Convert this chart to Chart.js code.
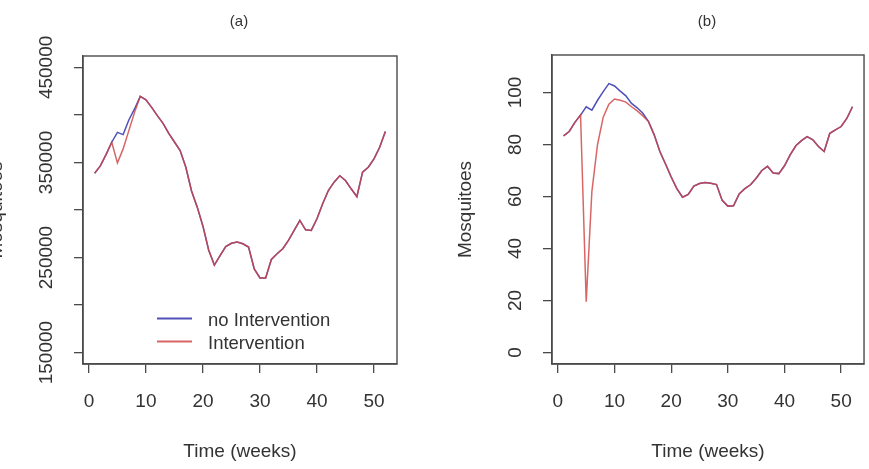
<!DOCTYPE html>
<html><head><meta charset="utf-8">
<script src="https://cdn.jsdelivr.net/npm/chart.js@4/dist/chart.umd.min.js"></script>
<style>
html,body{margin:0;padding:0;background:#fff;overflow:hidden;width:869px;height:469px;position:relative}
canvas{position:absolute;top:0}
#ca{left:-20px}
#cb{left:434px}
</style></head><body>
<canvas id="ca" width="450" height="469"></canvas>
<canvas id="cb" width="435" height="469"></canvas>
<script>
// ---- data ----
const weeks = [1,2,3,4,5,6,7,8,9,10,11,12,13,14,15,16,17,18,19,20,21,22,23,24,25,26,
               27,28,29,30,31,32,33,34,35,36,37,38,39,40,41,42,43,44,45,46,47,48,49,50,51,52];

const noIntervA = [338700,346400,358300,371300,381700,379300,394700,406300,419500,416000,408000,399300,391200,380500,371500,362500,345000,320000,303000,283000,258000,242000,252000,261500,265000,266300,
                   264500,261000,238000,228500,228500,248000,254000,259300,268000,278500,289000,279200,278500,290800,306500,320500,329300,336000,331000,322300,314000,339800,345000,353800,366000,382500];
const intervA   = [338700,346400,358300,371300,349600,364300,383500,402700,419500,416000,408000,399300,391200,380500,371500,362500,345000,320000,303000,283000,258000,242000,252000,261500,265000,266300,
                   264500,261000,238000,228500,228500,248000,254000,259300,268000,278500,289000,279200,278500,290800,306500,320500,329300,336000,331000,322300,314000,339800,345000,353800,366000,382500];

const noIntervB = [83.3,85,88.5,91.3,94.5,93.2,97,100.3,103.4,102.5,100.5,98.7,95.8,94.1,92,88.8,83.7,77.3,72.5,67.5,63,59.7,60.8,64,65,65.4,
                   65.1,64.6,58.5,56.3,56.4,61,63,64.5,67,70,71.6,69,68.8,71.8,76,79.5,81.5,83,81.8,79.2,77.3,84.3,85.6,86.9,90,94.5];
const intervB   = [83.3,85,88.5,91.3,19.5,62,80,90.5,95.5,97.5,97,96.3,94.5,92.9,91,88.8,83.7,77.3,72.5,67.5,63,59.7,60.8,64,65,65.4,
                   65.1,64.6,58.5,56.3,56.4,61,63,64.5,67,70,71.6,69,68.8,71.8,76,79.5,81.5,83,81.8,79.2,77.3,84.3,85.6,86.9,90,94.5];

const xTicks  = [0,10,20,30,40,50];
const yTicksA = [150000,200000,250000,300000,350000,400000,450000];
const yLabelsA = [150000,250000,350000,450000];
const yTicksB = [0,20,40,60,80,100];
const seriesNames = ['no Intervention','Intervention'];

// ---- style ----
const FONT = "'Liberation Sans', Arial, sans-serif";
const TXT = '#333333';
const AX = '#4a4a4a';
const BLUE = 'rgb(80,80,185)';
const RED = 'rgba(208,68,68,0.82)';

function pts(arr){ return weeks.map((w,i)=>({x:w,y:arr[i]})); }

const boxPlugin = {
  id:'box',
  afterDraw(chart){
    const {ctx, chartArea:a} = chart;
    ctx.save();
    ctx.strokeStyle = AX; ctx.lineWidth = 1.4;
    ctx.strokeRect(a.left, a.top, a.right-a.left, a.bottom-a.top);
    ctx.fillStyle = TXT;
    ctx.font = "15px " + FONT;
    ctx.textAlign = 'center'; ctx.textBaseline = 'middle';
    ctx.fillText(chart.options.plugins.box.title, (a.left+a.right)/2 - 1, 22);
    const lg = chart.options.plugins.box.legend;
    if (lg) {
      chart.data.datasets.forEach((ds,i)=>{
        const y = a.bottom - 45.5 + i*23;
        ctx.strokeStyle = ds.borderColor; ctx.lineWidth = 2;
        ctx.beginPath(); ctx.moveTo(a.left+74, y); ctx.lineTo(a.left+109, y); ctx.stroke();
        ctx.fillStyle = TXT; ctx.font = "18.5px " + FONT;
        ctx.textAlign = 'left'; ctx.textBaseline = 'middle';
        ctx.fillText(ds.label, a.left+125, y+2.5);
      });
    }
    ctx.restore();
  }
};

function makeChart(id, cfg){
  return new Chart(document.getElementById(id), {
    type:'line',
    data:{ datasets:[
      {label:seriesNames[0], data:pts(cfg.blue), borderColor:BLUE, borderWidth:1.5, pointRadius:0, tension:0, fill:false, order:1},
      {label:seriesNames[1], data:pts(cfg.red), borderColor:RED, borderWidth:1.5, pointRadius:0, tension:0, fill:false, order:0}
    ]},
    plugins:[boxPlugin],
    options:{
      responsive:false, animation:false, devicePixelRatio:1,
      layout:{padding:{top:cfg.top, right:cfg.right, left:0, bottom:0}},
      plugins:{legend:{display:false}, tooltip:{enabled:false}, title:{display:false},
               box:{title:cfg.title, legend:cfg.legend}},
      scales:{
        x:{ type:'linear', min:-1.04, max:54.04,
            afterBuildTicks:s=>{ s.ticks = xTicks.map(v=>({value:v})); },
            afterFit:s=>{ s.height = 105; },
            ticks:{autoSkip:false, minRotation:0, maxRotation:0, padding:17, color:TXT, font:{family:FONT, size:19},
                   callback:v=>String(v)},
            grid:{drawOnChartArea:false, drawTicks:true, tickLength:9, color:AX, lineWidth:1.3},
            border:{display:true, color:AX, width:1.4},
            title:{display:true, text:'Time (weeks)', color:TXT, font:{family:FONT, size:19}, padding:{top:0, bottom:5.6}}
        },
        y:{ type:'linear', min:cfg.ymin, max:cfg.ymax,
            afterBuildTicks:s=>{ s.ticks = cfg.yTicks.map(v=>({value:v})); },
            afterFit:s=>{ s.width = cfg.yWidth; },
            ticks:{autoSkip:false, minRotation:90, maxRotation:90, crossAlign:'center', padding:cfg.tickPad, color:TXT,
                   font:{family:FONT, size:19}, callback:cfg.yCallback},
            grid:{drawOnChartArea:false, drawTicks:true, tickLength:9, color:AX, lineWidth:1.3},
            border:{display:true, color:AX, width:1.4},
            title:{display:true, text:'Mosquitoes', color:TXT, font:{family:FONT, size:19}, padding:{top:cfg.titlePad, bottom:0}}
        }
      }
    }
  });
}

makeChart('ca', {blue:noIntervA, red:intervA, top:56, right:33, yWidth:103, ymin:138000, ymax:462000,
  yTicks:yTicksA, tickPad:-4.4, titlePad:5.1, title:'(a)', legend:true,
  yCallback:v=> yLabelsA.includes(v) ? String(v) : ''});
makeChart('cb', {blue:noIntervB, red:intervB, top:55, right:4, yWidth:118, ymin:-4.4, ymax:114.4,
  yTicks:yTicksB, tickPad:11.15, titlePad:20.1, title:'(b)', legend:false,
  yCallback:v=>String(v)});
</script>
</body></html>
